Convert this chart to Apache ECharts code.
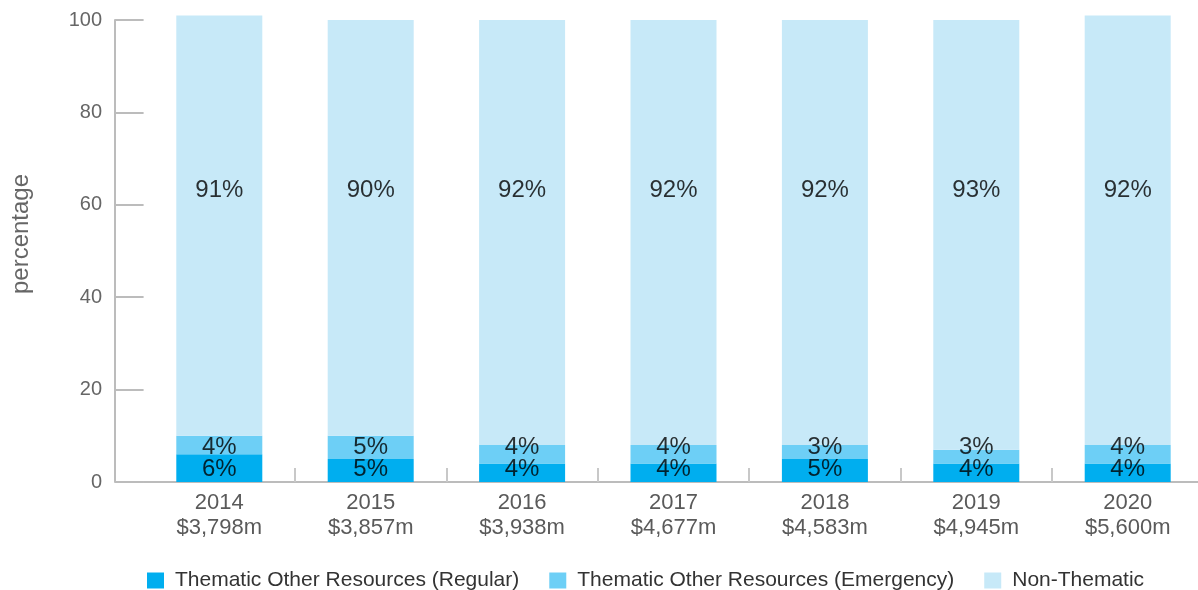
<!DOCTYPE html>
<html>
<head>
<meta charset="utf-8">
<script src="https://cdn.jsdelivr.net/npm/echarts@6/dist/echarts.min.js"></script>
<style>
  html, body { margin: 0; padding: 0; background: #fff; }
  #chart { width: 1198px; height: 590px; }
</style>
</head>
<body>
<div id="chart"></div>
<script>
// ---- data ----
const years = ['2014', '2015', '2016', '2017', '2018', '2019', '2020'];
const totals = ['$3,798m', '$3,857m', '$3,938m', '$4,677m', '$4,583m', '$4,945m', '$5,600m'];
const regular = [6, 5, 4, 4, 5, 4, 4];
const emergency = [4, 5, 4, 4, 3, 3, 4];
const nonThematic = [91, 90, 92, 92, 92, 93, 93];
const regularLabels = ['6%', '5%', '4%', '4%', '5%', '4%', '4%'];
const emergencyLabels = ['4%', '5%', '4%', '4%', '3%', '3%', '4%'];
const nonThematicLabels = ['91%', '90%', '92%', '92%', '92%', '93%', '92%'];
const yTicks = [0, 20, 40, 60, 80, 100];
const seriesNames = ['Thematic Other Resources (Regular)', 'Thematic Other Resources (Emergency)', 'Non-Thematic'];

// ---- style ----
const FONT = 'Liberation Sans, Arial, sans-serif';
const colors = ['#00aeef', '#6dcff6', '#c7e9f8'];
const AXIS_GRAY = '#bcbcbc';
// label anchor levels (y-axis units) where the in-bar labels sit
const LABEL_LEVELS = [2.7, 7.6, 63.2];

const chart = echarts.init(document.getElementById('chart'), null, { renderer: 'canvas' });

function barSeries(name, data, color) {
  return {
    name: name,
    type: 'bar',
    stack: 'total',
    data: data,
    barWidth: 86,
    clip: false,
    itemStyle: { color: color },
    emphasis: { disabled: true },
    silent: true
  };
}

function labelSeries(level, labels) {
  return {
    type: 'scatter',
    data: years.map(() => level),
    symbolSize: 1,
    itemStyle: { color: 'rgba(0,0,0,0)' },
    silent: true,
    clip: false,
    z: 10,
    label: {
      show: true,
      position: 'inside',
      formatter: p => labels[p.dataIndex],
      fontFamily: FONT,
      fontSize: 24,
      color: '#000'
    }
  };
}

const option = {
  animation: false,
  backgroundColor: '#fff',
  textStyle: { fontFamily: FONT },
  grid: {
    left: 143.6, width: 1059.8, top: 20, bottom: 108,
    containLabel: false, outerBoundsMode: 'none'
  },
  legend: {
    data: seriesNames,
    left: 147,
    top: 570,
    padding: 0,
    itemWidth: 17,
    itemHeight: 16,
    itemGap: 30,
    icon: 'rect',
    selectedMode: false,
    textStyle: { fontFamily: FONT, fontSize: 21, color: '#333', padding: [0, 0, 0, 6] }
  },
  xAxis: {
    type: 'category',
    data: years,
    boundaryGap: true,
    axisLine: { lineStyle: { color: AXIS_GRAY, width: 2 } },
    axisTick: {
      show: true,
      inside: true,
      length: 14,
      interval: (i) => i !== 0,
      lineStyle: { color: '#c8c8c8', width: 2 }
    },
    axisLabel: {
      interval: 0,
      margin: 8,
      fontFamily: FONT,
      fontSize: 22,
      lineHeight: 25,
      color: '#5a5a5a',
      formatter: (v, i) => v + '\n' + totals[i]
    },
    splitLine: { show: false }
  },
  yAxis: {
    type: 'value',
    min: yTicks[0],
    max: yTicks[yTicks.length - 1],
    interval: yTicks[1] - yTicks[0],
    offset: 28.6,
    name: 'percentage',
    nameLocation: 'middle',
    nameGap: 82,
    nameTextStyle: { fontFamily: FONT, fontSize: 24, color: '#666', padding: [0, 0, 0, 34] },
    axisLine: { show: true, lineStyle: { color: AXIS_GRAY, width: 2 } },
    axisTick: { show: true, inside: true, length: 28.6, lineStyle: { color: AXIS_GRAY, width: 2 } },
    axisLabel: { margin: 13, fontFamily: FONT, fontSize: 20, color: '#666' },
    splitLine: { show: false }
  },
  series: [
    barSeries(seriesNames[0], regular, colors[0]),
    barSeries(seriesNames[1], emergency, colors[1]),
    barSeries(seriesNames[2], nonThematic, colors[2]),
    labelSeries(LABEL_LEVELS[0], regularLabels),
    labelSeries(LABEL_LEVELS[1], emergencyLabels),
    labelSeries(LABEL_LEVELS[2], nonThematicLabels)
  ]
};

chart.setOption(option);
</script>
</body>
</html>
